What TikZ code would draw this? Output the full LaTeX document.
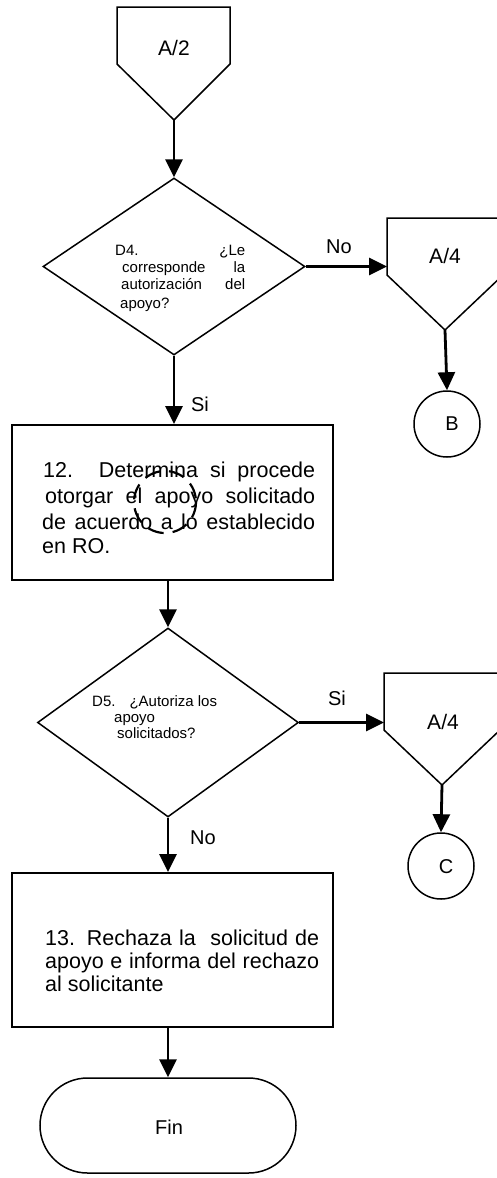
\documentclass[tikz,border=0pt]{standalone}
\usepackage{fontspec}
\setmainfont{Liberation Sans}
\usetikzlibrary{shapes.geometric,shapes.misc,arrows.meta}
\begin{document}
\begin{tikzpicture}[x=1pt,y=-1pt,
  shp/.style={draw, line width=1.5pt, line join=miter},
  boxs/.style={draw, line width=2pt, inner sep=0pt},
  arr/.style={line width=2.8pt, -{Triangle[length=18pt,width=17pt]}},
  lbl/.style={font=\fontsize{20}{24}\selectfont, inner sep=0pt},
  bigt/.style={font=\fontsize{21.5}{25}\selectfont, inner sep=0pt, anchor=base west},
  dtext/.style={font=\fontsize{15}{18}\selectfont, inner sep=0pt, anchor=base west},
]
\useasboundingbox (0,0) rectangle (496,1178);

% off-page connector A/2
\draw[shp] (117,7) -- (230,7) -- (230,64) -- (174,120) -- (117,64) -- cycle;
\coordinate (a2tip) at (174,120);
\node[lbl, font=\fontsize{21}{25}\selectfont] (a2) at (174,48) {A/2};

% decision D4
\node[shp, diamond, minimum width=262pt, minimum height=177pt, inner sep=0pt] (d4) at (174,266.5) {};
\node[dtext] (d4a) at (115,255) {\makebox[130pt][s]{D4. ¿Le}};
\node[dtext] (d4b) at (122,272) {\makebox[123pt][s]{corresponde la}};
\node[dtext] (d4c) at (121,289) {\makebox[124pt][s]{autorización del}};
\node[dtext] (d4d) at (120,308) {apoyo?};

% off-page connector A/4 (first)
\draw[shp] (503,218) -- (387,218) -- (387,275) -- (445,330) -- (503,275);
\coordinate (a4in) at (387,269);
\coordinate (a4tip) at (445,330);
\node[lbl, font=\fontsize{21}{25}\selectfont] (a4lab) at (445,256) {A/4};

% connector B
\node[shp, circle, minimum size=66pt, inner sep=0pt] (cb) at (447,424) {};
\node[lbl] (cblab) at (452,424) {B};

% process 12
\node[boxs, minimum width=321pt, minimum height=155pt] (b12) at (172.5,502.5) {};
\node[bigt] (b12a) at (43,477) {\makebox[272pt][s]{12. Determina si procede}};
\node[bigt] (b12b) at (45,503) {\makebox[270pt][s]{otorgar el apoyo solicitado}};
\node[bigt] (b12c) at (42,529) {\makebox[273pt][s]{de acuerdo a lo establecido}};
\node[bigt] (b12d) at (42,553) {en RO.};
\draw[line width=2.2pt, dash pattern=on 16pt off 9pt] (165,502) circle (31);

% decision D5
\node[shp, diamond, minimum width=261pt, minimum height=189pt, inner sep=0pt] (d5) at (168,722.5) {};
\node[dtext] (d5a) at (92,706) {D5.\hspace{14pt}¿Autoriza los};
\node[dtext] (d5b) at (114,722) {apoyo};
\node[dtext] (d5c) at (117,738) {solicitados?};

% off-page connector A/4 (second)
\draw[shp] (500,673) -- (384,673) -- (384,730) -- (442,785) -- (500,730);
\coordinate (a4bin) at (384,723);
\coordinate (a4btip) at (442,785);
\node[lbl, font=\fontsize{21}{25}\selectfont] (a4blab) at (443,722) {A/4};

% connector C
\node[shp, circle, minimum size=66pt, inner sep=0pt] (cc) at (441,866) {};
\node[lbl] (cclab) at (446,867) {C};

% process 13
\node[boxs, minimum width=321pt, minimum height=154pt] (b13) at (172.5,950) {};
\node[bigt] (b13a) at (45,945) {\makebox[274pt][s]{13. Rechaza la\ \ solicitud de}};
\node[bigt] (b13b) at (45,968) {\makebox[274pt][s]{apoyo e informa del rechazo}};
\node[bigt] (b13c) at (45,991) {al solicitante};

% terminator
\node[shp, rounded rectangle, minimum width=256pt, minimum height=95pt, inner sep=0pt] (fin) at (168,1125.5) {};
\node[lbl] (finlab) at (169,1127) {Fin};

% connectors
\draw[arr] (a2tip) -- (d4.north);
\draw[arr] (d4.east) -- (d4.east -| a4in);
\node[lbl] (no1) at (339,247) {No};
\draw[arr] (a4tip) -- (cb.north);
\draw[arr] (d4.south) -- (d4.south |- b12.north);
\node[lbl] (si1) at (200,404) {Si};
\draw[arr] (d5.north |- b12.south) -- (d5.north);
\draw[arr] (d5.east) -- (d5.east -| a4bin);
\node[lbl] (si2) at (337,698) {Si};
\draw[arr] (a4btip) -- (cc.north);
\draw[arr] (d5.south) -- (d5.south |- b13.north);
\node[lbl] (no2) at (203,838) {No};
\draw[arr] (fin.north |- b13.south) -- (fin.north);
\end{tikzpicture}
\end{document}
